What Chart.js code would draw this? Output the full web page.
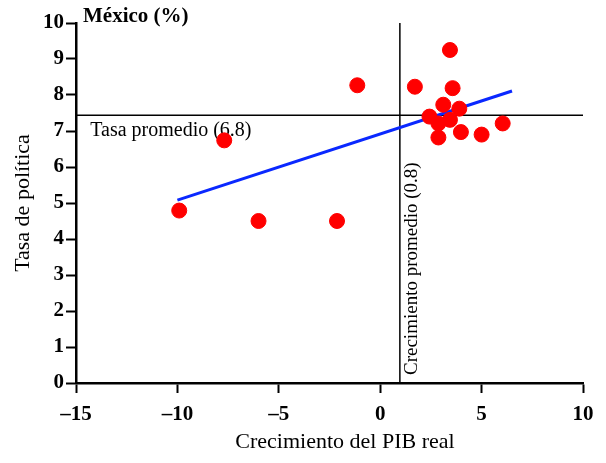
<!DOCTYPE html>
<html>
<head>
<meta charset="utf-8">
<script src="https://cdn.jsdelivr.net/npm/chart.js@4"></script>
<style>
  body { margin: 0; background: #fff; }
</style>
</head>
<body>
<canvas id="mxChart" width="606" height="463"></canvas>
<script>
// Mexico: policy rate vs real GDP growth

const growth = [3.44, 1.71, 3.57, 3.11, 3.90, 2.43, 2.87, 3.44, 3.98, 5.00, 6.04, 2.87, -1.13, -7.69, -9.91, -6.0, -2.13];
const rate   = [9.25, 8.23, 8.19, 7.73, 7.62, 7.40, 7.21, 7.31, 6.97, 6.90, 7.21, 6.82, 8.27, 6.74, 4.79, 4.50, 4.50];

const trendX = [-10.0, 6.5];
const trendY = [5.08, 8.11];

const avgRate = 7.44;      // drawn position of the average-rate line
const avgGrowth = 0.97;    // drawn position of the average-growth line

const xTicks = [-15, -10, -5, 0, 5, 10];
const yTicks = [0, 1, 2, 3, 4, 5, 6, 7, 8, 9, 10];

const serif = "'Liberation Serif', 'Times New Roman', serif";

const points = growth.map((g, i) => ({ x: g, y: rate[i] }));
const trend = trendX.map((x, i) => ({ x: x, y: trendY[i] }));

const textPlugin = {
    id: 'texts',
    beforeDatasetsDraw(chart) {
        const c = chart.ctx;
        const xs = chart.scales.x, ys = chart.scales.y;
        c.save();
        c.fillStyle = '#000';
        c.font = '20px ' + serif;
        c.textBaseline = 'middle';
        c.textAlign = 'left';
        c.fillText('Tasa promedio (6.8)', xs.getPixelForValue(-14.3), ys.getPixelForValue(avgRate) + 16);

        c.font = '19px ' + serif;
        c.translate(xs.getPixelForValue(avgGrowth) + 12, ys.getPixelForValue(0) - 8);
        c.rotate(-Math.PI / 2);
        c.fillText('Crecimiento promedio (0.8)', 0, 0);
        c.restore();
    },
    afterDraw(chart) {
        const c = chart.ctx;
        c.save();
        c.fillStyle = '#000';
        c.textBaseline = 'middle';
        c.textAlign = 'left';
        c.font = 'bold 21px ' + serif;
        c.fillText('México (%)', 83, 17);
        c.font = '22px ' + serif;
        c.textAlign = 'center';
        c.fillText('Crecimiento del PIB real', 345, 442);
        c.restore();
    }
};

new Chart(document.getElementById('mxChart'), {
    type: 'scatter',
    data: {
        datasets: [
            {
                label: 'México',
                data: points,
                backgroundColor: '#ff0000',
                borderColor: '#ff0000',
                pointRadius: 7.5,
                pointHoverRadius: 7.5
            },
            {
                type: 'line',
                label: 'Tendencia',
                data: trend,
                borderColor: 'rgb(10,40,255)',
                borderWidth: 3,
                pointRadius: 0,
                fill: false
            },
            {
                type: 'line',
                label: 'Tasa promedio',
                data: [{ x: -15, y: avgRate }, { x: 10, y: avgRate }],
                borderColor: '#000',
                borderWidth: 1.5,
                pointRadius: 0,
                fill: false
            },
            {
                type: 'line',
                label: 'Crecimiento promedio',
                data: [{ x: avgGrowth, y: 0 }, { x: avgGrowth, y: 10 }],
                borderColor: '#000',
                borderWidth: 1.5,
                pointRadius: 0,
                fill: false
            }
        ]
    },
    options: {
        responsive: false,
        animation: false,
        layout: { padding: { top: 23, right: 23, left: 0, bottom: 0 } },
        plugins: {
            legend: { display: false },
            tooltip: { enabled: false }
        },
        scales: {
            x: {
                type: 'linear',
                min: -15,
                max: 10,
                afterFit(scale) { scale.height = 80; },
                afterBuildTicks(scale) { scale.ticks = xTicks.map(v => ({ value: v })); },
                ticks: {
                    color: '#000',
                    padding: 9,
                    font: { family: serif, size: 21, weight: 'bold' },
                    callback: v => String(v).replace('-', '–')
                },
                grid: {
                    drawOnChartArea: false,
                    tickLength: 10,
                    tickWidth: 2,
                    tickColor: '#000'
                },
                border: { color: '#000', width: 2.5 }
            },
            y: {
                min: 0,
                max: 10,
                afterFit(scale) { scale.width = 76; },
                afterBuildTicks(scale) { scale.ticks = yTicks.map(v => ({ value: v })); },
                ticks: {
                    color: '#000',
                    padding: 2,
                    font: { family: serif, size: 21, weight: 'bold' }
                },
                grid: {
                    drawOnChartArea: false,
                    tickLength: 10,
                    tickWidth: 2,
                    tickColor: '#000'
                },
                border: { color: '#000', width: 2.5 },
                title: {
                    display: true,
                    text: 'Tasa de política',
                    color: '#000',
                    font: { family: serif, size: 22 },
                    padding: { top: 10, bottom: 0 }
                }
            }
        }
    },
    plugins: [textPlugin]
});
</script>
</body>
</html>
